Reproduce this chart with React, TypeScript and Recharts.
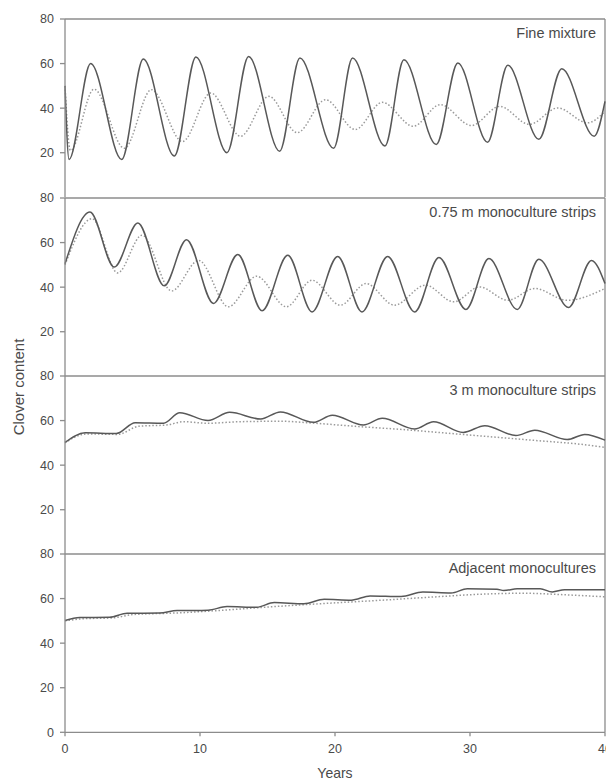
import React from "react";
import { Label, Line, LineChart, ReferenceLine, XAxis, YAxis } from "recharts";

type Pt = [number, number];

// year, clover content (%)
const fineSolid: Pt[] = [
  [0, 50], [0.3, 17], [1.9, 60], [4.2, 17], [5.8, 62], [8.1, 18.5], [9.7, 63],
  [12.0, 20], [13.6, 63.2], [15.9, 20.7], [17.4, 62.5], [19.9, 22], [21.3, 62.5],
  [23.7, 23], [25.1, 61.7], [27.5, 23.7], [29.1, 60.3], [31.3, 24.7], [32.8, 59.2],
  [35.1, 26], [36.8, 57.7], [39.2, 27.4], [40, 43],
];
const fineDotted: Pt[] = [
  [0, 50], [0.4, 21], [2.15, 48.5], [4.4, 22], [6.4, 48.3], [8.7, 25], [10.8, 46.8],
  [13.0, 27.4], [15.1, 45.3], [17.2, 29], [19.3, 43.8], [21.5, 30.4], [23.5, 42.6],
  [25.8, 31.9], [27.8, 41.6], [30.1, 32.2], [32.2, 40.8], [34.4, 32.7], [36.5, 40.1],
  [38.7, 33.4], [40, 38.6],
];
const strip075Solid: Pt[] = [
  [0, 50.5], [1.85, 73.7], [3.65, 49], [5.4, 68.8], [7.35, 40.6], [9.0, 61.3],
  [11.0, 32.7], [12.8, 54.7], [14.6, 29.4], [16.5, 54.3], [18.3, 28.9], [20.2, 53.8],
  [22.0, 28.9], [23.9, 53.8], [25.9, 28.9], [27.7, 53.3], [29.7, 30], [31.4, 52.8],
  [33.5, 30], [35.1, 52.5], [37.3, 30.9], [39.0, 52], [40, 41.6],
];
const strip075Dotted: Pt[] = [
  [0, 50], [2.0, 70.7], [3.9, 46.4], [5.7, 63.3], [7.9, 38.3], [9.9, 52], [12.1, 31.2],
  [14.2, 44.9], [16.4, 31.2], [18.3, 43.1], [20.4, 31.9], [22.3, 41.6], [24.4, 31.9],
  [26.7, 40.9], [28.8, 33.4], [30.7, 40.1], [32.8, 34.1], [34.8, 39.4], [37.2, 34.1],
  [40, 39.4],
];
const strip3Solid: Pt[] = [
  [0, 50.2], [1.5, 54.5], [3.8, 54.2], [5.2, 59], [7.3, 58.8], [8.5, 63.5], [10.6, 60],
  [12.2, 63.7], [14.5, 60.7], [15.95, 63.9], [18.4, 59.2], [19.8, 62.4], [22.1, 58],
  [23.5, 61], [25.9, 56.2], [27.3, 59.5], [29.5, 54.7], [31.1, 57.7], [33.4, 53.3],
  [34.8, 55.7], [37.2, 51.5], [38.5, 53.8], [40, 51.2],
];
const strip3Dotted: Pt[] = [
  [0, 50], [1.6, 54], [3.9, 53.8], [5.5, 57.5], [7.5, 58], [8.8, 59.5], [10.5, 58.8],
  [13, 59.5], [16, 59.7], [18.5, 58.8], [22, 57.2], [25, 56], [28, 54.5], [32, 52.5],
  [35, 51], [38, 49.5], [40, 48],
];
const adjSolid: Pt[] = [
  [0, 50.2], [1.1, 51.5], [3.3, 51.6], [4.6, 53.4], [7.0, 53.5], [8.3, 54.6],
  [10.6, 54.8], [12.0, 56.4], [14.2, 56.1], [15.5, 58.2], [17.7, 57.7], [19.2, 59.7],
  [21.2, 59.3], [22.6, 61.2], [24.9, 60.9], [26.5, 62.9], [28.6, 62.5], [29.8, 64.4],
  [32.0, 64.2], [32.5, 63.6], [33.5, 64.4], [35.2, 64.4], [36.1, 63.0], [37.0, 64],
  [40, 64],
];
const adjDotted: Pt[] = [
  [0, 50], [1.5, 51], [3.5, 51.3], [5, 52.8], [8.5, 53.6], [12, 54.9], [15.5, 56.4],
  [19.5, 57.9], [23, 59.1], [27, 60.6], [31, 62], [34, 62.4], [37, 61.7], [40, 60.8],
];

const panelTitles = [
  "Fine mixture",
  "0.75 m monoculture strips",
  "3 m monoculture strips",
  "Adjacent monocultures",
];
const xTicks = [0, 10, 20, 30, 40];
const yTicksUpper = [20, 40, 60, 80];
const yTicksBottom = [0, 20, 40, 60, 80];

const panels = [
  { solid: fineSolid, dotted: fineDotted },
  { solid: strip075Solid, dotted: strip075Dotted },
  { solid: strip3Solid, dotted: strip3Dotted },
  { solid: adjSolid, dotted: adjDotted },
];

const toPts = (arr: Pt[]) => arr.map(([x, y]) => ({ x, y }));

const W = 606;
const PLOT_TOP = 19.3;
const PANEL_H = 178.3;
const PAD = 10;
const AXIS = "#8c8c8c";
const TXT = "#4a4a4a";

function Panel({ idx }: { idx: number }) {
  const last = idx === panels.length - 1;
  const p = panels[idx];
  const bottomH = last ? 50 : 0;
  return (
    <div style={{ position: "absolute", left: 0, top: PLOT_TOP + idx * PANEL_H - PAD }}>
      <LineChart
        width={W + 10}
        height={PAD + PANEL_H + bottomH}
        margin={{ top: PAD, right: 11, bottom: 0, left: 0 }}
      >
        <XAxis
          type="number"
          dataKey="x"
          domain={[0, 40]}
          ticks={xTicks}
          hide={!last}
          height={bottomH}
          stroke={AXIS}
          strokeWidth={1.3}
          tickSize={4}
          tickMargin={8}
          tick={{ fill: TXT, fontSize: 12.5 }}
        >
          {last && (
            <Label value="Years" position="insideBottom" offset={4} fill={TXT} fontSize={14} />
          )}
        </XAxis>
        <YAxis
          type="number"
          dataKey="y"
          domain={[0, 80]}
          ticks={last ? yTicksBottom : yTicksUpper}
          width={65}
          stroke={AXIS}
          strokeWidth={1.3}
          tickSize={5}
          tickMargin={6}
          tick={{ fill: TXT, fontSize: 12.5 }}
        />
        <ReferenceLine
          y={80}
          stroke={AXIS}
          strokeWidth={1.3}
          label={{
            value: panelTitles[idx],
            position: "insideTopRight",
            offset: 9,
            fill: TXT,
            fontSize: 14.5,
          }}
        />
        <ReferenceLine x={40} stroke={AXIS} strokeWidth={1.3} />
        <Line
          data={toPts(p.dotted)}
          dataKey="y"
          type="monotone"
          stroke="#9a9a9a"
          strokeWidth={1.5}
          strokeDasharray="1.5 2"
          dot={false}
          isAnimationActive={false}
        />
        <Line
          data={toPts(p.solid)}
          dataKey="y"
          type="monotone"
          stroke="#585858"
          strokeWidth={1.5}
          dot={false}
          isAnimationActive={false}
        />
      </LineChart>
    </div>
  );
}

export default function App() {
  return (
    <div
      style={{
        position: "absolute",
        left: 0,
        top: 0,
        width: W,
        height: 782,
        overflow: "hidden",
        background: "#fff",
        fontFamily: "'Liberation Sans', Arial, sans-serif",
      }}
    >
      {panels.map((_, i) => (
        <Panel key={i} idx={i} />
      ))}
      <div
        style={{
          position: "absolute",
          left: 18,
          top: 387,
          transform: "translate(-50%, -50%) rotate(-90deg)",
          whiteSpace: "nowrap",
          fontSize: 15,
          color: TXT,
        }}
      >
        Clover content
      </div>
    </div>
  );
}
